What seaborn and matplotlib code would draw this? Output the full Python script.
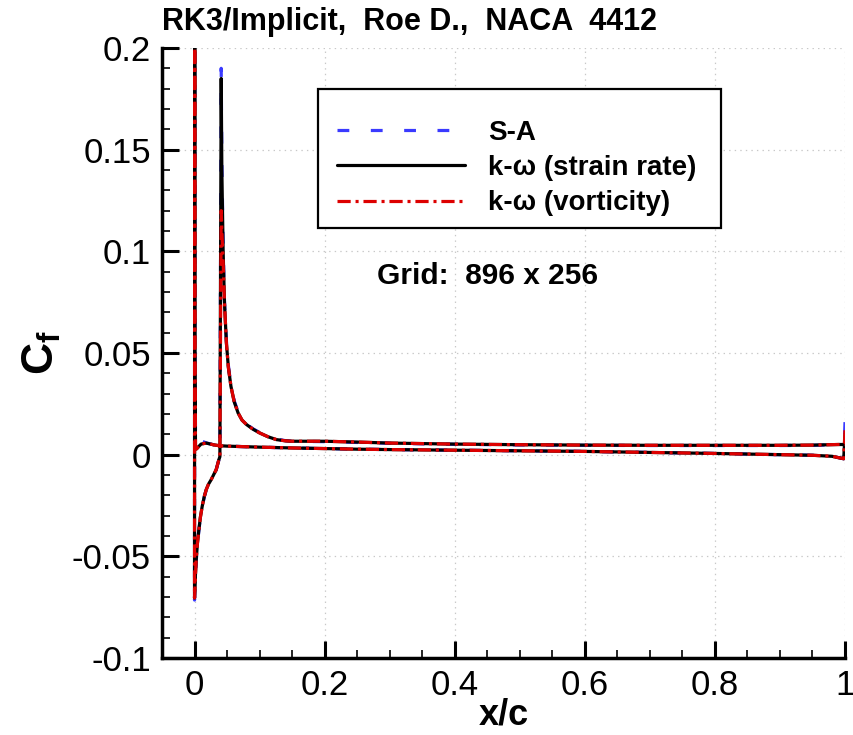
import numpy as np
import pandas as pd
import matplotlib
matplotlib.use("Agg")
import matplotlib.pyplot as plt
import seaborn as sns
from matplotlib.ticker import MultipleLocator, FuncFormatter, FixedLocator
from matplotlib.patches import Rectangle

# ---------------- data ----------------
# path around the airfoil: trailing edge -> leading edge -> trailing edge
x_path = [1.0, 0.998, 0.98, 0.95, 0.9, 0.8, 0.7, 0.6, 0.5, 0.4, 0.3, 0.25, 0.2,
          0.15, 0.1, 0.07, 0.05, 0.038, 0.03, 0.018, 0.01, 0.005, 0.003, 0.0015,
          0.0006, 0.0003, 0.0, 0.0012, 0.0026, 0.0045, 0.0067, 0.009, 0.0118,
          0.015, 0.018, 0.0215, 0.0256, 0.0295, 0.0333, 0.0374, 0.039, 0.041,
          0.042, 0.044, 0.046, 0.049, 0.052, 0.056, 0.061, 0.067, 0.073, 0.08,
          0.09, 0.1, 0.113, 0.126, 0.14, 0.15, 0.2, 0.25, 0.3, 0.4, 0.5, 0.6,
          0.7, 0.8, 0.9, 0.95, 0.99, 1.0]

cf_sa = [0.016, -0.002, -0.0008, -0.0003, 0.0, 0.0006, 0.0011, 0.0016, 0.0019,
         0.0022, 0.0025, 0.0027, 0.003, 0.0033, 0.0037, 0.004, 0.0042, 0.0044,
         0.0048, 0.0058, 0.0068, 0.013, 0.012, 0.011, 0.05, 0.3, -0.0715,
         -0.0615, -0.0525, -0.0442, -0.0372, -0.031, -0.0256, -0.0208, -0.0173,
         -0.0146, -0.0124, -0.0099, -0.0075, -0.0026, -0.001, 0.19, 0.145,
         0.102, 0.076, 0.056, 0.044, 0.034, 0.0265, 0.021, 0.0173, 0.015,
         0.0127, 0.0109, 0.009, 0.0076, 0.0069, 0.0066, 0.0064, 0.006, 0.0056,
         0.0051, 0.0048, 0.0046, 0.0045, 0.0045, 0.0045, 0.0046, 0.0049, 0.005]

cf_kw_strain = [0.010, -0.002, -0.0008, -0.0003, 0.0, 0.0006, 0.0011, 0.0016,
                0.0019, 0.0022, 0.0025, 0.0027, 0.003, 0.0033, 0.0037, 0.004,
                0.0042, 0.0044, 0.0048, 0.0057, 0.0052, 0.0035, 0.0028, 0.004,
                0.05, 0.3, -0.0705, -0.0605, -0.0517, -0.0435, -0.0369, -0.0308,
                -0.0254, -0.0206, -0.0172, -0.0145, -0.0123, -0.0098, -0.0074,
                -0.0025, -0.001, 0.185, 0.14, 0.1, 0.075, 0.055, 0.043, 0.0336,
                0.026, 0.0205, 0.017, 0.0148, 0.0125, 0.0107, 0.0088, 0.0074,
                0.0068, 0.0066, 0.0066, 0.0062, 0.0057, 0.0052, 0.0049, 0.0047,
                0.0046, 0.0046, 0.0046, 0.0047, 0.005, 0.005]

cf_kw_vort = [0.012, -0.002, -0.0008, -0.0003, 0.0, 0.0006, 0.0011, 0.0016,
              0.0019, 0.0022, 0.0025, 0.0027, 0.003, 0.0033, 0.0037, 0.004,
              0.0042, 0.0044, 0.0048, 0.0057, 0.0052, 0.0035, 0.0028, 0.004,
              0.05, 0.3, -0.0705, -0.0605, -0.0517, -0.0435, -0.0369, -0.0308,
              -0.0254, -0.0206, -0.0172, -0.0145, -0.0123, -0.0098, -0.0074,
              -0.0025, -0.001, 0.12, 0.11, 0.095, 0.075, 0.055, 0.043, 0.0336,
              0.026, 0.0205, 0.017, 0.0148, 0.0125, 0.0107, 0.0088, 0.0074,
              0.0068, 0.0066, 0.0066, 0.0062, 0.0057, 0.0052, 0.0049, 0.0047,
              0.0046, 0.0046, 0.0046, 0.0047, 0.005, 0.005]

labels = ["S-A", "k-ω (strain rate)", "k-ω (vorticity)"]
colors = ["#3a3aff", "#000000", "#dd0000"]
title_text = "RK3/Implicit,  Roe D.,  NACA  4412"
note_text = "Grid:  896 x 256"
x_ticks = [0, 0.2, 0.4, 0.6, 0.8, 1.0]
y_ticks = [-0.1, -0.05, 0, 0.05, 0.1, 0.15, 0.2]

# ---------------- styling ----------------
sns.set_theme(style="white")
plt.rcParams['font.family'] = ['Liberation Sans', 'DejaVu Sans']
plt.rcParams['text.color'] = 'black'
plt.rcParams['axes.labelcolor'] = 'black'
plt.rcParams['xtick.color'] = 'black'
plt.rcParams['ytick.color'] = 'black'
plt.rcParams['mathtext.fontset'] = 'custom'
plt.rcParams['mathtext.rm'] = 'Liberation Sans'
plt.rcParams['mathtext.it'] = 'Liberation Sans:bold'
plt.rcParams['mathtext.bf'] = 'Liberation Sans:bold'
plt.rcParams['lines.scale_dashes'] = False

W, H = 854, 735
fig = plt.figure(figsize=(W / 100, H / 100), dpi=100)
ax = fig.add_axes([162 / W, 1 - 658 / H, (845 - 162) / W, (658 - 48) / H])

df = pd.DataFrame({"x": x_path, "sa": cf_sa, "ks": cf_kw_strain, "kv": cf_kw_vort})
styles = [(0, (8.5, 15.5)), "-", (0, (9.5, 3.5, 2.2, 3.5))]
handles = []
for col, lab, c, ls in zip(["sa", "ks", "kv"], labels, colors, styles):
    sns.lineplot(data=df, x="x", y=col, sort=False, estimator=None, color=c,
                 linewidth=2.3, linestyle=ls, ax=ax, legend=False)
    handles.append(ax.get_lines()[-1])

ax.set_xlim(-0.05, 1.0)
ax.set_ylim(-0.1, 0.2)

ax.xaxis.set_major_locator(FixedLocator(x_ticks))
ax.yaxis.set_major_locator(FixedLocator(y_ticks))
ax.xaxis.set_minor_locator(MultipleLocator(0.05))
ax.yaxis.set_minor_locator(MultipleLocator(0.01))
fmt = FuncFormatter(lambda v, p: f"{round(v, 4):g}" if abs(v) > 1e-9 else "0")
ax.xaxis.set_major_formatter(fmt)
ax.yaxis.set_major_formatter(fmt)

ax.tick_params(which="major", direction="in", length=12, width=2.2,
               labelsize=25, pad=8, color="black", labelcolor="black")
ax.tick_params(which="minor", direction="in", length=6, width=1.2, color="black")
ax.tick_params(axis="x", which="both", bottom=True, top=False)
ax.tick_params(axis="y", which="both", left=True, right=False)

for s in ["top", "right"]:
    ax.spines[s].set_visible(False)
for s in ["left", "bottom"]:
    ax.spines[s].set_visible(True)
    ax.spines[s].set_color("black")
    ax.spines[s].set_linewidth(2.5)

ax.grid(True, which="major", color="#c8c8c8", linestyle=(0, (1, 3)), linewidth=0.9)
ax.set_axisbelow(True)

ax.set_xlabel("x/c", fontsize=26, fontweight="bold", labelpad=-3)
ax.set_ylabel(r"$\mathbf{C_f}$", fontsize=32, rotation=90)
ax.yaxis.set_label_coords(-0.145, 0.5)

fig.text(162 / W, 1 - 22 / H, title_text, fontsize=22, fontweight="bold",
         ha="left", va="center")
fig.text(488 / W, 1 - 276 / H, note_text, fontsize=21.5, fontweight="bold",
         ha="center", va="center")

# legend box
box = Rectangle((318 / W, 1 - 228 / H), (721 - 318) / W, (228 - 89) / H,
                transform=fig.transFigure, facecolor="white", edgecolor="black",
                linewidth=1.6, zorder=4)
fig.patches.append(box)
leg = fig.legend(handles, labels, loc="upper left",
                 bbox_to_anchor=(337 / W, 1 - 120 / H), bbox_transform=fig.transFigure,
                 frameon=False, prop={"weight": "bold", "size": 20},
                 handlelength=4.6, handletextpad=0.85, labelspacing=0.33,
                 borderpad=0.0, borderaxespad=0.0)
leg.set_zorder(5)

fig.savefig("out.png", dpi=100, facecolor="white")
